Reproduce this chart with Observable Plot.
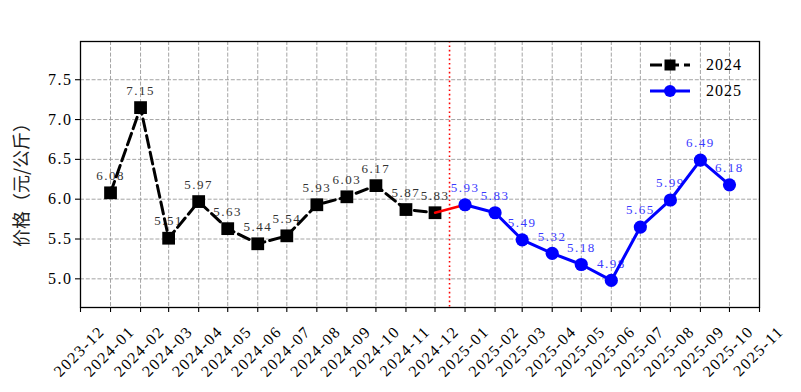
<!DOCTYPE html>
<html>
<head>
<meta charset="utf-8">
<script src="https://cdn.jsdelivr.net/npm/d3@7"></script>
<script src="https://cdn.jsdelivr.net/npm/@observablehq/plot@0.6"></script>
<style>
  html, body { margin: 0; padding: 0; background: #fff; }
  #wrap { position: relative; width: 801px; height: 392px; }
  #legend { position: absolute; left: 648px; top: 52px; font-family: "Liberation Serif", serif; font-size: 16px; letter-spacing: 1px; color: #000; }
  #legend .row { display: flex; align-items: center; height: 26px; }
  #legend .lbl { margin-left: 14px; }
  .tk text, text.tk, .tk { letter-spacing: 1.5px; }
</style>
</head>
<body>
<div id="wrap">
  <div id="chart"></div>
  <div id="legend">
    <div class="row"><svg width="44" height="14"><line x1="2" y1="7" x2="42" y2="7" stroke="#000" stroke-width="3" stroke-dasharray="12,5"/><rect x="16.5" y="1.5" width="11" height="11" fill="#000"/></svg><span class="lbl">2024</span></div>
    <div class="row"><svg width="44" height="14"><line x1="2" y1="7" x2="42" y2="7" stroke="#0000ff" stroke-width="3"/><circle cx="22" cy="7" r="6" fill="#0000ff"/></svg><span class="lbl">2025</span></div>
  </div>
</div>
<script>
const months2024 = ["2024-01","2024-02","2024-03","2024-04","2024-05","2024-06","2024-07","2024-08","2024-09","2024-10","2024-11","2024-12"];
const values2024 = [6.08, 7.15, 5.51, 5.97, 5.63, 5.44, 5.54, 5.93, 6.03, 6.17, 5.87, 5.83];
const months2025 = ["2025-01","2025-02","2025-03","2025-04","2025-05","2025-06","2025-07","2025-08","2025-09","2025-10"];
const values2025 = [5.93, 5.83, 5.49, 5.32, 5.18, 4.98, 5.65, 5.99, 6.49, 6.18];
const xTickLabels = ["2023-12","2024-01","2024-02","2024-03","2024-04","2024-05","2024-06","2024-07","2024-08","2024-09","2024-10","2024-11","2024-12","2025-01","2025-02","2025-03","2025-04","2025-05","2025-06","2025-07","2025-08","2025-09","2025-10","2025-11"];
const yTicks = [5.0, 5.5, 6.0, 6.5, 7.0, 7.5];
const yLabel = "价格（元/公斤）";
const dividerDate = "2024-12-16";

const SERIF = "Liberation Serif";
const parse = s => new Date(s.length === 7 ? s + "-01T00:00:00Z" : s + "T00:00:00Z");
const d2024 = months2024.map((m, i) => ({date: parse(m), value: values2024[i]}));
const d2025 = months2025.map((m, i) => ({date: parse(m), value: values2025[i]}));
const bridge = [d2024[d2024.length - 1], d2025[0]];
const xTicks = xTickLabels.map(parse);
const fmt = d3.utcFormat("%Y-%m");

const gridStyle = {stroke: "#9a9a9a", strokeOpacity: 1, strokeWidth: 0.9, strokeDasharray: "4,1.8"};

const chart = Plot.plot({
  width: 801,
  height: 392,
  marginLeft: 80,
  marginRight: 42,
  marginTop: 41,
  marginBottom: 85,
  x: {type: "utc", domain: [xTicks[0], xTicks[xTicks.length - 1]]},
  y: {domain: [4.64, 7.98]},
  style: {fontFamily: SERIF, background: "#fff", overflow: "visible"},
  marks: [
    Plot.gridY(yTicks, gridStyle),
    Plot.gridX(xTicks, gridStyle),
    Plot.axisY(yTicks, {tickSize: 5, tickPadding: 3, tickFormat: d => d.toFixed(1), fontSize: 16, fontFamily: SERIF, label: null, stroke: "#000", strokeWidth: 1.1, className: "tk", color: "#000"}),
    Plot.axisX(xTicks, {tickSize: 5, tickFormat: () => "", label: null, strokeWidth: 1.1}),
    Plot.text(xTicks, {x: d => d, frameAnchor: "bottom", text: d => fmt(d), rotate: -45, textAnchor: "end", lineAnchor: "bottom", dx: 25, dy: 25, fontSize: 16, fontFamily: SERIF, fill: "#000", className: "tk"}),
    Plot.text([yLabel], {frameAnchor: "left", text: d => d, rotate: -90, textAnchor: "middle", lineAnchor: "middle", dx: -58, dy: 6, fontSize: 18, fontFamily: "Noto Sans CJK SC", fill: "#222"}),
    Plot.ruleX([parse(dividerDate)], {stroke: "#ff0000", strokeWidth: 1.6, strokeDasharray: "1.6,2.8"}),
    Plot.text(d2024, {x: "date", y: "value", text: d => d.value.toFixed(2), dy: -17, fontSize: 13, fontFamily: SERIF, fill: "#333", className: "tk"}),
    Plot.text(d2025, {x: "date", y: "value", text: d => d.value.toFixed(2), dy: -17, fontSize: 13, fontFamily: SERIF, fill: "#3a3aff", className: "tk"}),
    Plot.line(d2024, {x: "date", y: "value", stroke: "#000", strokeWidth: 3, strokeDasharray: "12,5"}),
    Plot.dot(d2024, {x: "date", y: "value", symbol: "square", r: 7.2, fill: "#000", stroke: null}),
    Plot.line(bridge, {x: "date", y: "value", stroke: "#ff0000", strokeWidth: 2.4}),
    Plot.line(d2025, {x: "date", y: "value", stroke: "#0000ff", strokeWidth: 3}),
    Plot.dot(d2025, {x: "date", y: "value", symbol: "circle", r: 6.6, fill: "#0000ff", stroke: null}),
    Plot.frame({stroke: "#000", strokeWidth: 1.3})
  ]
});
document.getElementById("chart").appendChild(chart);
</script>
</body>
</html>
